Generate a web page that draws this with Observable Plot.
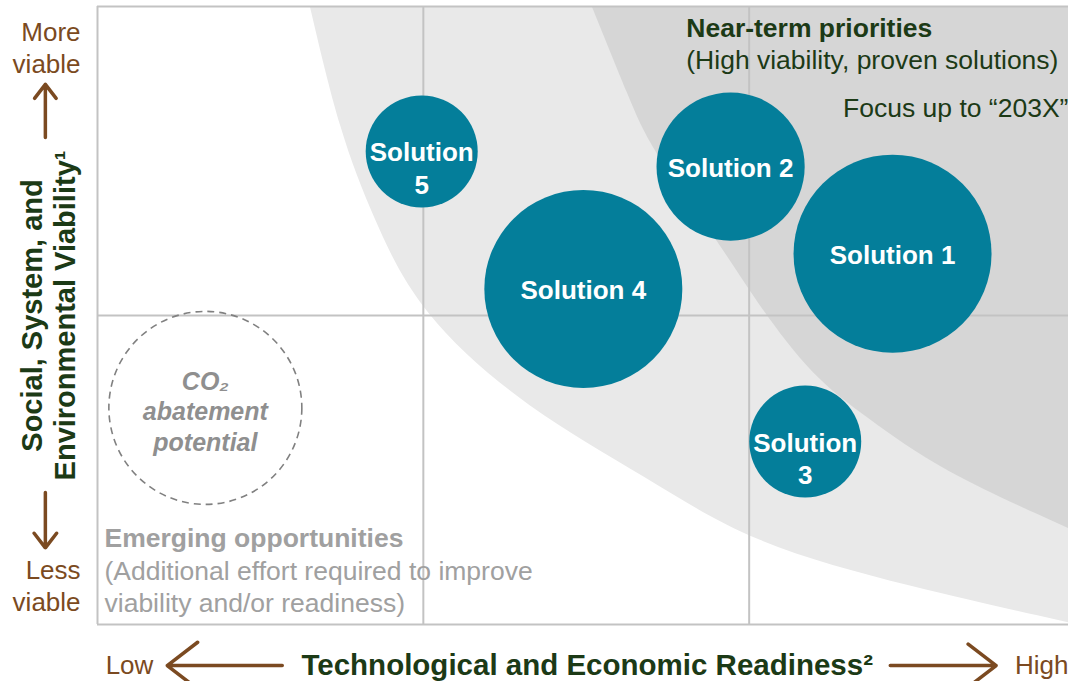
<!DOCTYPE html>
<html><head><meta charset="utf-8">
<script src="https://cdn.jsdelivr.net/npm/d3@7"></script>
<script src="https://cdn.jsdelivr.net/npm/@observablehq/plot@0.6"></script>
<style>body{margin:0;background:#fff;overflow:hidden}</style>
</head><body><div id="chart"></div>
<script>
// Solutions: readiness (x), viability (y), CO2 abatement potential (bubble size)
const solutionLabels = ["Solution 1", "Solution 2", "Solution\n3", "Solution 4", "Solution\n5"];
const readiness = [2.44, 1.943, 2.172, 1.491, 0.995];
const viability = [1.20, 1.482, 0.592, 1.086, 1.531];
const abatement = [100, 56, 32, 100, 32];

// Legend bubble
const legendReadiness = [0.331];
const legendViability = [0.701];
const legendAbatement = [95];

// Outer (light) band boundary: "203X" horizon edge
const outerEdgeX = [0.653, 0.745, 0.847, 0.985, 1.322, 1.687, 2.0, 2.497, 2.98];
const outerEdgeY = [2.0, 1.589, 1.317, 1.006, 0.693, 0.476, 0.262, 0.120, 0.006];
// Inner (dark) band boundary: near-term priorities edge
const innerEdgeX = [1.518, 1.635, 1.696, 1.890, 2.025, 2.196, 2.362, 2.586, 2.98];
const innerEdgeY = [2.0, 1.696, 1.544, 1.265, 1.039, 0.799, 0.670, 0.498, 0.311];

// Quadrant dividers
const readinessDividers = [1, 2];
const viabilityDividers = [1];

const solutions = solutionLabels.map((label, i) => ({label, x: readiness[i], y: viability[i], size: abatement[i]}));
const legend = legendReadiness.map((x, i) => ({x, y: legendViability[i], size: legendAbatement[i]}));
const outer = outerEdgeX.map((x, i) => ({x, y: outerEdgeY[i]}));
const inner = innerEdgeX.map((x, i) => ({x, y: innerEdgeY[i]}));

const teal = "#047e9a";
const brown = "#7b4a21";
const green = "#1c3a16";
const grayText = "#a0a0a0";
const gridColor = "#c3c3c3";

const txt = (s, o) => Plot.text([s], {text: d => d, ...o});

const chart = Plot.plot({
  width: 1068,
  height: 681,
  marginLeft: 97,
  marginRight: 0,
  marginTop: 6,
  marginBottom: 57,
  style: {fontFamily: "'Liberation Sans', Arial, sans-serif", background: "#fff"},
  x: {domain: [0, 2.98], axis: null},
  y: {domain: [0, 2], axis: null},
  r: {type: "sqrt", domain: [0, 100], range: [0, 99]},
  marks: [
    Plot.areaY(outer, {x: "x", y1: "y", y2: 2, fill: "#e9e9e9", curve: "basis", clip: true}),
    Plot.areaY(inner, {x: "x", y1: "y", y2: 2, fill: "#d6d6d6", curve: "basis", clip: true}),
    Plot.ruleX(readinessDividers, {stroke: gridColor, strokeWidth: 2}),
    Plot.ruleY(viabilityDividers, {stroke: gridColor, strokeWidth: 2}),
    Plot.ruleX([0], {stroke: gridColor, strokeWidth: 2}),
    Plot.ruleY([0, 2], {stroke: gridColor, strokeWidth: 2}),
    // Quadrant annotations
    txt("Near-term priorities", {x: 1.807, y: 1.929, textAnchor: "start", fontSize: 26.5, fontWeight: "bold", fill: green}),
    txt("(High viability, proven solutions)", {x: 1.807, y: 1.825, textAnchor: "start", fontSize: 26.5, fill: green}),
    txt("Focus up to \u201C203X\u201D", {x: 2.288, y: 1.670, textAnchor: "start", fontSize: 26.5, fill: green}),
    txt("Emerging opportunities", {x: 0.0215, y: 0.278, textAnchor: "start", fontSize: 26.5, fontWeight: "bold", fill: grayText}),
    txt("(Additional effort required to improve\nviability and/or readiness)", {x: 0.0215, y: 0.126, textAnchor: "start", fontSize: 26.5, lineHeight: 1.21, fill: grayText}),
    // Legend bubble
    Plot.dot(legend, {x: "x", y: "y", r: "size", fill: "none", stroke: "#808080", strokeWidth: 1.6, strokeDasharray: "7,5"}),
    txt("CO\u2082\nabatement\npotential", {x: 0.331, y: 0.693, fontSize: 25, fontWeight: "bold", fontStyle: "italic", lineHeight: 1.22, fill: "#8f8f8f"}),
    // Solution bubbles
    Plot.dot(solutions, {x: "x", y: "y", r: "size", fill: teal}),
    Plot.text(solutions, {x: "x", y: "y", text: "label", fill: "white", fontSize: 26, fontWeight: "bold", lineAnchor: "top", dy: -13, lineHeight: 1.25}),
    // Y axis annotations
    txt("More\nviable", {x: -0.052, y: 1.871, textAnchor: "end", fontSize: 26, lineHeight: 1.23, fill: brown}),
    Plot.arrow([0], {x1: -0.160, y1: 1.576, x2: -0.160, y2: 1.748, stroke: brown, strokeWidth: 3.5, headLength: 18, headAngle: 75}),
    txt("Social, System, and\nEnvironmental Viability\u00B9", {x: -0.153, y: 1.0, rotate: -90, fontSize: 29, fontWeight: "bold", lineHeight: 1.17, fill: green}),
    Plot.arrow([0], {x1: -0.160, y1: 0.427, x2: -0.160, y2: 0.248, stroke: brown, strokeWidth: 3.5, headLength: 18, headAngle: 75}),
    txt("Less\nviable", {x: -0.052, y: 0.130, textAnchor: "end", fontSize: 26, lineHeight: 1.23, fill: brown}),
    // X axis annotations
    txt("Low", {x: 0.025, y: -0.133, textAnchor: "start", fontSize: 26, fill: brown}),
    Plot.arrow([0], {x1: 0.567, y1: -0.133, x2: 0.214, y2: -0.133, stroke: brown, strokeWidth: 3.5, headLength: 18, headAngle: 75}),
    txt("Technological and Economic Readiness\u00B2", {x: 1.503, y: -0.133, fontSize: 29.5, fontWeight: "bold", fill: green}),
    Plot.arrow([0], {x1: 2.433, y1: -0.133, x2: 2.758, y2: -0.133, stroke: brown, strokeWidth: 3.5, headLength: 18, headAngle: 75}),
    txt("High", {x: 2.816, y: -0.133, textAnchor: "start", fontSize: 26, fill: brown})
  ]
});
document.getElementById("chart").appendChild(chart);
</script>
</body></html>
